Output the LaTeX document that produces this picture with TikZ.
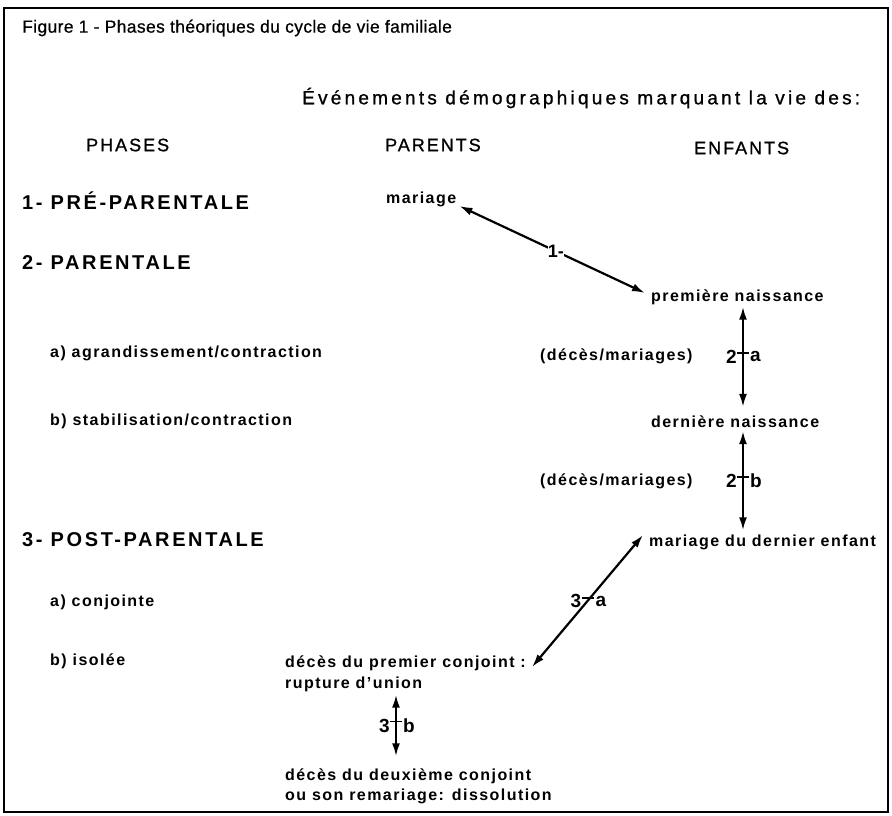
\documentclass[tikz,border=0pt]{standalone}
\usepackage{fontspec}
\setmainfont{Liberation Sans}
\usetikzlibrary{arrows.meta}
\tikzset{
  txt/.style={inner sep=0pt, anchor=west, font=\fontsize{16}{22}\selectfont\bfseries\addfontfeatures{LetterSpace=9}, align=left},
  phase/.style={inner sep=0pt, anchor=west, font=\fontsize{20}{22}\selectfont\bfseries\addfontfeatures{LetterSpace=13}},
  head/.style={inner sep=0pt, anchor=west, font=\fontsize{18}{20}\selectfont\addfontfeatures{LetterSpace=11,FakeBold=1}},
  lab/.style={inner sep=0pt, font=\fontsize{19}{20}\selectfont\bfseries},
  arr/.style={line width=2.2pt, {Latex[length=13pt,width=8pt]}-{Latex[length=13pt,width=8pt]}},
  tick/.style={line width=1.8pt}
}
\begin{document}
\begin{tikzpicture}[x=1pt,y=-1pt]
\useasboundingbox (0,0) rectangle (892,815);
\draw[line width=2.2pt] (4,8) rectangle (888,812);

\node[inner sep=0pt, anchor=west, font=\fontsize{17.5}{20}\selectfont\addfontfeatures{LetterSpace=2,FakeBold=0.6}] (title) at (22,28) {Figure 1 - Phases théoriques du cycle de vie familiale};
\node[head, font=\fontsize{19}{20}\selectfont\addfontfeatures{LetterSpace=17,FakeBold=1}] (evt) at (302,98) {Événements démographiques marquant la vie des:};
\node[head] (hph) at (86,145) {PHASES};
\node[head] (hpa) at (385,145) {PARENTS};
\node[head] (hen) at (694,148) {ENFANTS};

\node[phase] (p1) at (22,201) {1- PRÉ-PARENTALE};
\node[phase] (p2) at (22,263) {2- PARENTALE};
\node[phase] (p3) at (22,540) {3- POST-PARENTALE};
\node[txt] (p2a) at (50,353) {a) agrandissement/contraction};
\node[txt] (p2b) at (50,421) {b) stabilisation/contraction};
\node[txt] (p3a) at (50,602) {a) conjointe};
\node[txt] (p3b) at (50,661) {b) isolée};

\node[txt] (mar) at (386,199) {mariage};
\node[txt] (prem) at (651,297) {première naissance};
\node[txt] (dm1) at (540,356) {(décès/mariages)};
\node[txt] (dern) at (651,422) {dernière naissance};
\node[txt] (dm2) at (540,481) {(décès/mariages)};
\node[txt] (mde) at (649,542) {mariage du dernier enfant};
\node[txt] (dpc1) at (285,663) {décès du premier conjoint :};
\node[txt] (dpc2) at (285,684) {rupture d'union};
\node[txt] (ddc1) at (285,776) {décès du deuxième conjoint};
\node[txt] (ddc2) at (285,796) {ou son remariage: dissolution};

% 1-
\draw[arr] ([xshift=3pt,yshift=-7pt]mar.east) -- ([xshift=-6pt,yshift=4pt]prem.west)
  node[pos=0.52, fill=white, inner sep=2pt, lab, font=\fontsize{18}{20}\selectfont\bfseries] {1-};

% 2-a
\draw[arr] ([xshift=92pt,yshift=-2pt]prem.south west) -- coordinate[pos=0.5] (m2a) ([xshift=92pt,yshift=9pt]dern.north west);
\draw[tick] ([xshift=-6pt,yshift=4pt]m2a) -- ([xshift=6pt,yshift=4pt]m2a);
\node[lab, anchor=east] (l2a) at ([xshift=-6pt]m2a) {2};
\node[lab, anchor=west] (r2a) at ([xshift=7pt]m2a) {a};

% 2-b
\draw[arr] ([xshift=92pt,yshift=-3pt]dern.south west) -- coordinate[pos=0.5] (m2b) ([xshift=94pt,yshift=4pt]mde.north west);
\draw[tick] ([xshift=-6pt,yshift=4pt]m2b) -- ([xshift=6pt,yshift=4pt]m2b);
\node[lab, anchor=east] (l2b) at ([xshift=-6pt]m2b) {2};
\node[lab, anchor=west] (r2b) at ([xshift=7pt]m2b) {b};

% 3-a
\draw[arr] ([xshift=6pt,yshift=-4pt]dpc1.east) -- coordinate[pos=0.5] (m3a) ([xshift=-6pt,yshift=7pt]mde.west);
\draw[tick] ([xshift=-6pt,yshift=3pt]m3a) -- ([xshift=6pt,yshift=3pt]m3a);
\node[lab, anchor=east] (l3a) at ([xshift=-6pt]m3a) {3};
\node[lab, anchor=west] (r3a) at ([xshift=8pt]m3a) {a};

% 3-b
\draw[arr] ([xshift=111pt,yshift=-3pt]dpc2.south west) -- coordinate[pos=0.5] (m3b) ([xshift=111pt,yshift=12pt]ddc1.north west);
\draw[tick] ([xshift=-6pt,yshift=4pt]m3b) -- ([xshift=6pt,yshift=4pt]m3b);
\node[lab, anchor=east] (l3b) at ([xshift=-6pt]m3b) {3};
\node[lab, anchor=west] (r3b) at ([xshift=7pt]m3b) {b};
\end{tikzpicture}
\end{document}
